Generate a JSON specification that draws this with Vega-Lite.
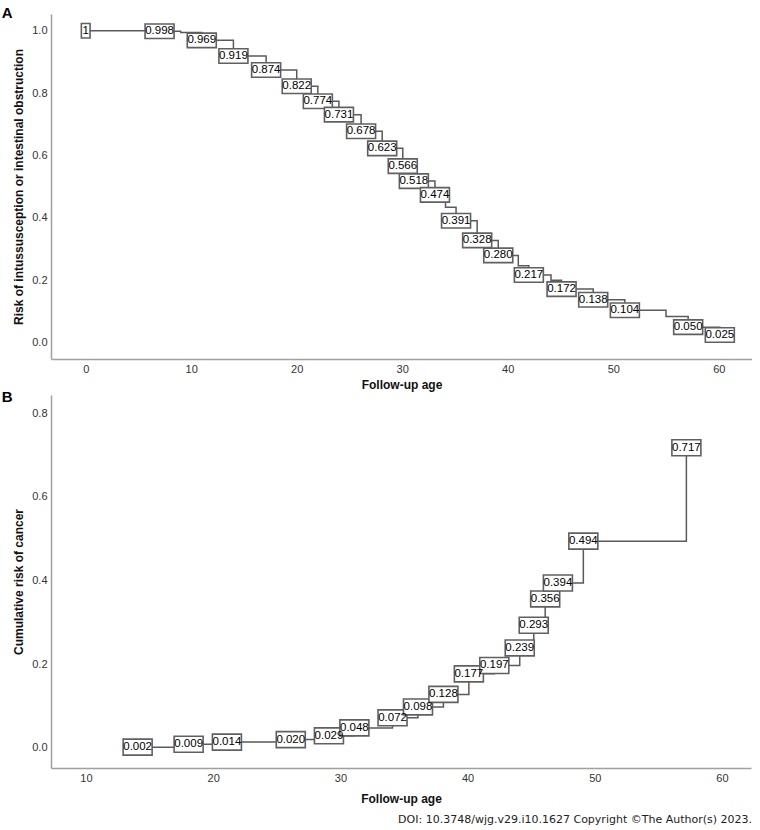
{
  "$schema": "https://vega.github.io/schema/vega-lite/v6.json",
  "background": "white",
  "padding": {"left": 1, "top": 6, "right": 0, "bottom": 0},
  "autosize": {"type": "pad"},
  "spacing": 0,
  "config": {
    "view": {"stroke": null},
    "axis": {
      "grid": false,
      "ticks": false,
      "domainColor": "#a0a0a0",
      "domainWidth": 1.5,
      "labelFont": "Liberation Sans",
      "labelFontSize": 11,
      "labelColor": "#333333",
      "labelPadding": 4,
      "titleFont": "Liberation Sans",
      "titleFontSize": 12,
      "titleFontWeight": "bold",
      "titleColor": "#111111"
    }
  },
  "title": {
    "text": "DOI: 10.3748/wjg.v29.i10.1627  Copyright ©The Author(s) 2023.",
    "orient": "bottom",
    "anchor": "end",
    "frame": "bounds",
    "font": "DejaVu Sans",
    "fontSize": 11,
    "fontWeight": "normal",
    "color": "#222222",
    "offset": 10
  },
  "datasets": {
    "riskA": [
      {"age": 0, "risk": 1, "label": "1"},
      {"age": 7, "risk": 0.998, "label": "0.998"},
      {"age": 9, "risk": 0.994, "label": null},
      {"age": 11, "risk": 0.969, "label": "0.969"},
      {"age": 14, "risk": 0.919, "label": "0.919"},
      {"age": 17.1, "risk": 0.874, "label": "0.874"},
      {"age": 20, "risk": 0.822, "label": "0.822"},
      {"age": 22, "risk": 0.774, "label": "0.774"},
      {"age": 24, "risk": 0.731, "label": "0.731"},
      {"age": 26.1, "risk": 0.678, "label": "0.678"},
      {"age": 28.1, "risk": 0.623, "label": "0.623"},
      {"age": 30.05, "risk": 0.566, "label": "0.566"},
      {"age": 31.1, "risk": 0.518, "label": "0.518"},
      {"age": 33.1, "risk": 0.474, "label": "0.474"},
      {"age": 34.1, "risk": 0.434, "label": null},
      {"age": 35.1, "risk": 0.391, "label": "0.391"},
      {"age": 37.1, "risk": 0.328, "label": "0.328"},
      {"age": 39.1, "risk": 0.280, "label": "0.280"},
      {"age": 41, "risk": 0.247, "label": null},
      {"age": 42, "risk": 0.217, "label": "0.217"},
      {"age": 44.1, "risk": 0.2, "label": null},
      {"age": 45.1, "risk": 0.172, "label": "0.172"},
      {"age": 48.1, "risk": 0.138, "label": "0.138"},
      {"age": 51.1, "risk": 0.104, "label": "0.104"},
      {"age": 55, "risk": 0.084, "label": null},
      {"age": 57.1, "risk": 0.050, "label": "0.050"},
      {"age": 60.1, "risk": 0.025, "label": "0.025"}
    ],
    "cancerB": [
      {"age": 14.06, "risk": 0.002, "label": "0.002"},
      {"age": 18.07, "risk": 0.009, "label": "0.009"},
      {"age": 21.08, "risk": 0.014, "label": "0.014"},
      {"age": 26.1, "risk": 0.020, "label": "0.020"},
      {"age": 29.1, "risk": 0.029, "label": "0.029"},
      {"age": 31.1, "risk": 0.048, "label": "0.048"},
      {"age": 34.1, "risk": 0.072, "label": "0.072"},
      {"age": 36.1, "risk": 0.098, "label": "0.098"},
      {"age": 38.1, "risk": 0.128, "label": "0.128"},
      {"age": 40.1, "risk": 0.177, "label": "0.177"},
      {"age": 42.1, "risk": 0.197, "label": "0.197"},
      {"age": 44.1, "risk": 0.239, "label": "0.239"},
      {"age": 45.2, "risk": 0.293, "label": "0.293"},
      {"age": 46.1, "risk": 0.356, "label": "0.356"},
      {"age": 47.1, "risk": 0.394, "label": "0.394"},
      {"age": 49.1, "risk": 0.494, "label": "0.494"},
      {"age": 57.2, "risk": 0.717, "label": "0.717"}
    ]
  },
  "vconcat": [
    {
      "width": 701,
      "height": 345,
      "title": {"text": "A", "anchor": "start", "frame": "bounds", "orient": "top", "baseline": "middle", "offset": -14, "dx": -11, "font": "Liberation Sans", "fontSize": 15, "fontWeight": "bold", "color": "#000000"},
      "data": {"name": "riskA"},
      "encoding": {
        "x": {"field": "age", "type": "quantitative", "scale": {"domain": [-3.29, 63.15], "nice": false, "zero": false}, "axis": {"title": "Follow-up age", "values": [0, 10, 20, 30, 40, 50, 60], "titlePadding": 5}},
        "y": {"field": "risk", "type": "quantitative", "scale": {"domain": [-0.052, 1.0535], "nice": false, "zero": false}, "axis": {"title": "Risk of intussusception or intestinal obstruction", "values": [0, 0.2, 0.4, 0.6, 0.8, 1.0], "format": ".1f", "titlePadding": 6}}
      },
      "layer": [
        {"mark": {"type": "line", "interpolate": "step-after", "color": "#5a5a5a", "strokeWidth": 1.5}},
        {"transform": [{"filter": "isValid(datum.label) && length(datum.label) > 1"}],
         "mark": {"type": "point", "shape": "M-1,-0.5L1,-0.5L1,0.5L-1,0.5Z", "size": 841, "filled": true, "fill": "white", "stroke": "#606060", "strokeWidth": 1.6, "opacity": 1}},
        {"transform": [{"filter": "datum.label == '1'"}],
         "mark": {"type": "point", "shape": "M-0.3,-0.5L0.3,-0.5L0.3,0.5L-0.3,0.5Z", "size": 841, "filled": true, "fill": "white", "stroke": "#606060", "strokeWidth": 1.6, "opacity": 1}},
        {"transform": [{"filter": "isValid(datum.label)"}],
         "mark": {"type": "text", "font": "Liberation Sans", "fontSize": 11.5, "color": "#000000", "align": "center", "baseline": "middle"},
         "encoding": {"text": {"field": "label", "type": "nominal"}}}
      ]
    },
    {
      "width": 700,
      "height": 373,
      "title": {"text": "B", "anchor": "start", "frame": "bounds", "orient": "top", "baseline": "middle", "offset": -17, "dx": -11, "font": "Liberation Sans", "fontSize": 15, "fontWeight": "bold", "color": "#000000"},
      "data": {"name": "cancerB"},
      "encoding": {
        "x": {"field": "age", "type": "quantitative", "scale": {"domain": [7.25, 62.28], "nice": false, "zero": false}, "axis": {"title": "Follow-up age", "values": [10, 20, 30, 40, 50, 60], "titlePadding": 10}},
        "y": {"field": "risk", "type": "quantitative", "scale": {"domain": [-0.0478, 0.843], "nice": false, "zero": false}, "axis": {"title": "Cumulative risk of cancer", "values": [0, 0.2, 0.4, 0.6, 0.8], "format": ".1f", "titlePadding": 6}}
      },
      "layer": [
        {"mark": {"type": "line", "interpolate": "step-after", "color": "#5a5a5a", "strokeWidth": 1.5}},
        {"mark": {"type": "point", "shape": "M-1,-0.55L1,-0.55L1,0.55L-1,0.55Z", "size": 841, "filled": true, "fill": "white", "stroke": "#606060", "strokeWidth": 1.6, "opacity": 1}},
        {"mark": {"type": "text", "font": "Liberation Sans", "fontSize": 11.5, "color": "#000000", "align": "center", "baseline": "middle"},
         "encoding": {"text": {"field": "label", "type": "nominal"}}}
      ]
    }
  ]
}
